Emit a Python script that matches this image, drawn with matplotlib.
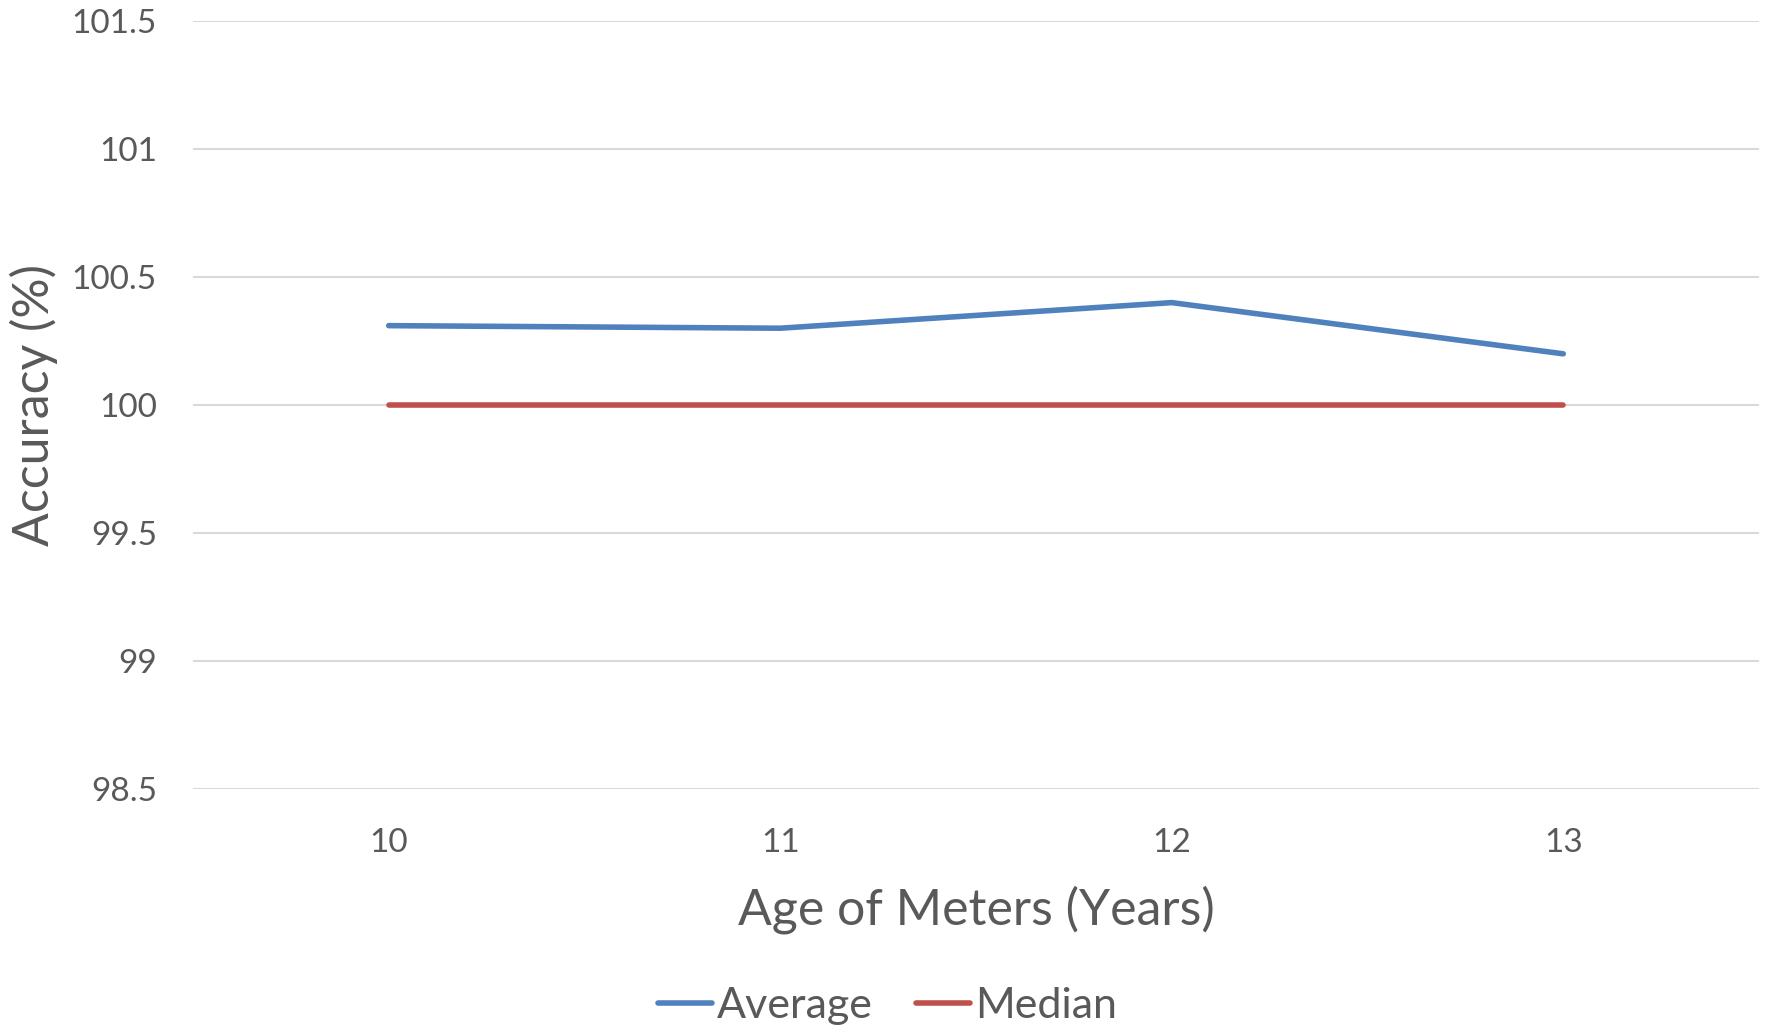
import matplotlib.pyplot as plt

ages = [10, 11, 12, 13]
average = [100.31, 100.30, 100.40, 100.20]
median = [100.0, 100.0, 100.0, 100.0]
yticks = [98.5, 99, 99.5, 100, 100.5, 101, 101.5]

plt.rcParams['font.family'] = ['Lato', 'DejaVu Sans']
txt = '#595959'

fig = plt.figure(figsize=(17.75, 10.29), dpi=100)
ax = fig.add_axes([0.1087, 0.2332, 0.8823, 0.7464])

x = list(range(len(ages)))
ax.plot(x, average, color='#4F81BD', lw=4, solid_capstyle='round', label='Average', zorder=3)
ax.plot(x, median, color='#C0504D', lw=4, solid_capstyle='round', label='Median', zorder=3)

ax.set_xlim(-0.5, len(ages) - 0.5)
ax.set_ylim(98.5, 101.5)
ax.set_xticks(x)
ax.set_xticklabels([str(a) for a in ages])
ax.set_yticks(yticks)
ax.set_yticklabels([f'{v:g}' for v in yticks])
ax.grid(axis='y', color='#D9D9D9', lw=1.5)
ax.set_axisbelow(True)
for s in ax.spines.values():
    s.set_visible(False)
ax.tick_params(axis='both', length=0, labelsize=24, colors=txt)
ax.tick_params(axis='y', pad=26)
ax.tick_params(axis='x', pad=28)

ax.set_xlabel('Age of Meters (Years)', fontsize=36, color=txt, labelpad=20)
ax.set_ylabel('Accuracy (%)', fontsize=36, color=txt, labelpad=10)

fig.legend(loc='center', bbox_to_anchor=(0.5, 0.022), ncol=2, frameon=False,
           fontsize=31, labelcolor=txt, handlelength=1.25, handletextpad=0.12,
           columnspacing=1.0)

fig.savefig('out.png', dpi=100)
